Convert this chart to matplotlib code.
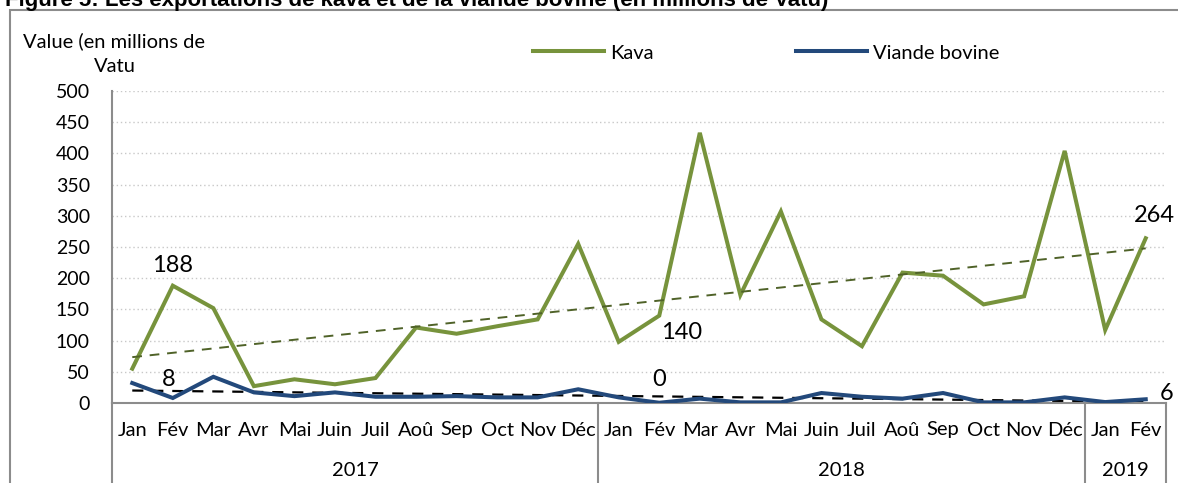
import numpy as np
import matplotlib
matplotlib.use("Agg")
import matplotlib.pyplot as plt
from matplotlib.transforms import blended_transform_factory
from matplotlib.patches import Rectangle
from matplotlib.lines import Line2D

plt.rcParams['font.family'] = ['Lato', 'DejaVu Sans']

months = ["Jan", "Fév", "Mar", "Avr", "Mai", "Juin", "Juil", "Aoû", "Sep", "Oct", "Nov", "Déc",
          "Jan", "Fév", "Mar", "Avr", "Mai", "Juin", "Juil", "Aoû", "Sep", "Oct", "Nov", "Déc",
          "Jan", "Fév"]
years = ["2017", "2018", "2019"]
year_counts = [12, 12, 2]

kava = [55, 188, 152, 27, 38, 30, 40, 121, 111, 123, 134, 255,
        98, 140, 433, 173, 307, 134, 91, 209, 204, 158, 171, 404,
        117, 264]
viande = [32, 8, 42, 17, 11, 17, 10, 10, 11, 9, 9, 22,
          9, 0.4, 7, 1, 1, 16, 10, 7, 16, 1, 1, 9,
          1.5, 6]
label_idx = [1, 13, 25]

GREEN = "#77933C"
NAVY = "#23497B"
TREND_GREEN = "#4F6228"
GRAY = "#8C8C8C"
FS = 14.5

fig = plt.figure(figsize=(11.78, 4.83), dpi=100)
W, H = 1178, 483
ax = fig.add_axes([112 / W, 1 - 403 / H, (1166 - 112) / W, (403 - 91) / H])

x = np.arange(len(kava))
ax.set_xlim(-0.5, len(kava) - 0.5)
ax.set_ylim(0, 500)

# gridlines
ax.set_yticks(np.arange(0, 501, 50))
ax.yaxis.grid(True, linestyle=(0, (1, 2)), color="#C8C8C8", linewidth=1.0)
ax.set_axisbelow(True)
ax.tick_params(axis='y', length=0, pad=16, labelsize=14)
ax.tick_params(axis='x', length=0)
ax.set_xticks([])

for s in ["top", "right"]:
    ax.spines[s].set_visible(False)
ax.spines["left"].set_color(GRAY)
ax.spines["bottom"].set_color(GRAY)
ax.spines["left"].set_linewidth(1.5)
ax.spines["bottom"].set_linewidth(1.5)

# series
lk, = ax.plot(x, kava, color=GREEN, linewidth=2.9, solid_joinstyle='miter', label="Kava", zorder=3)
lv, = ax.plot(x, viande, color=NAVY, linewidth=2.9, solid_joinstyle='miter', label="Viande bovine", zorder=3)

# trendlines
pk = np.polyfit(x, kava, 1)
pv = np.polyfit(x, viande, 1)
ax.plot(x, np.polyval(pk, x), color=TREND_GREEN, linestyle=(0, (5, 4)), linewidth=1.4, zorder=4)
ax.plot(x, np.polyval(pv, x), color="black", linestyle=(0, (5, 4)), linewidth=1.6, zorder=2)

# data labels (offsets in points)
kava_offsets = {1: (0, 14.5), 13: (16, -12), 25: (6, 16.5)}
viande_offsets = {1: (-3, 13.5), 13: (0, 17), 25: (15, 4.5)}
for i in label_idx:
    ax.annotate(f"{kava[i]:.0f}", (x[i], kava[i]), xytext=kava_offsets[i], textcoords='offset points',
                ha='center', va='center', fontsize=17, zorder=5, annotation_clip=False)
    ax.annotate(f"{viande[i]:.0f}", (x[i], viande[i]), xytext=viande_offsets[i], textcoords='offset points',
                ha='center', va='center', fontsize=17, zorder=5, annotation_clip=False)

# category axis
trans = blended_transform_factory(ax.transData, ax.transAxes)
for i, m in enumerate(months):
    ax.text(x[i], -27 / 312, m, transform=trans, ha='center', va='center', fontsize=FS)
bounds = np.concatenate([[0], np.cumsum(year_counts)]) - 0.5
for b in bounds:
    ax.add_line(Line2D([b, b], [0, -0.3], transform=trans, color=GRAY, linewidth=1.5, clip_on=False))
for y, a, b in zip(years, bounds[:-1], bounds[1:]):
    ax.text((a + b) / 2, -67 / 312, y, transform=trans, ha='center', va='center', fontsize=FS)

# y-axis title
fig.text(23 / W, 1 - 41 / H, "Value (en millions de", ha='left', va='center', fontsize=FS)
fig.text(94 / W, 1 - 67 / H, "Vatu", ha='left', va='center', fontsize=FS)

# legend (two entries placed separately)
fs_px = FS * 100 / 72
common = dict(frameon=False, fontsize=FS, handlelength=71 / fs_px, handletextpad=6 / fs_px,
              borderaxespad=0, borderpad=0, loc='center left')
ly = (403 - 53) / 312
leg1 = ax.legend(handles=[lk], bbox_to_anchor=((533 - 112) / 1054, ly), **common)
ax.add_artist(leg1)
ax.legend(handles=[lv], bbox_to_anchor=((796 - 112) / 1054, ly), **common)

# frame
fig.patches.append(Rectangle((10 / W, -0.1), 1.2, 1 - 10 / H + 0.1, transform=fig.transFigure,
                             fill=False, edgecolor=GRAY, linewidth=1.5))

# title (cut off at top)
fig.text(5 / W, 1 - 6 / H, "Figure 5: Les exportations de kava et de la viande bovine (en millions de Vatu)",
         ha='left', va='baseline', fontsize=16, fontweight='bold', family=['Liberation Sans', 'DejaVu Sans'])

fig.savefig("out.png", dpi=100)
